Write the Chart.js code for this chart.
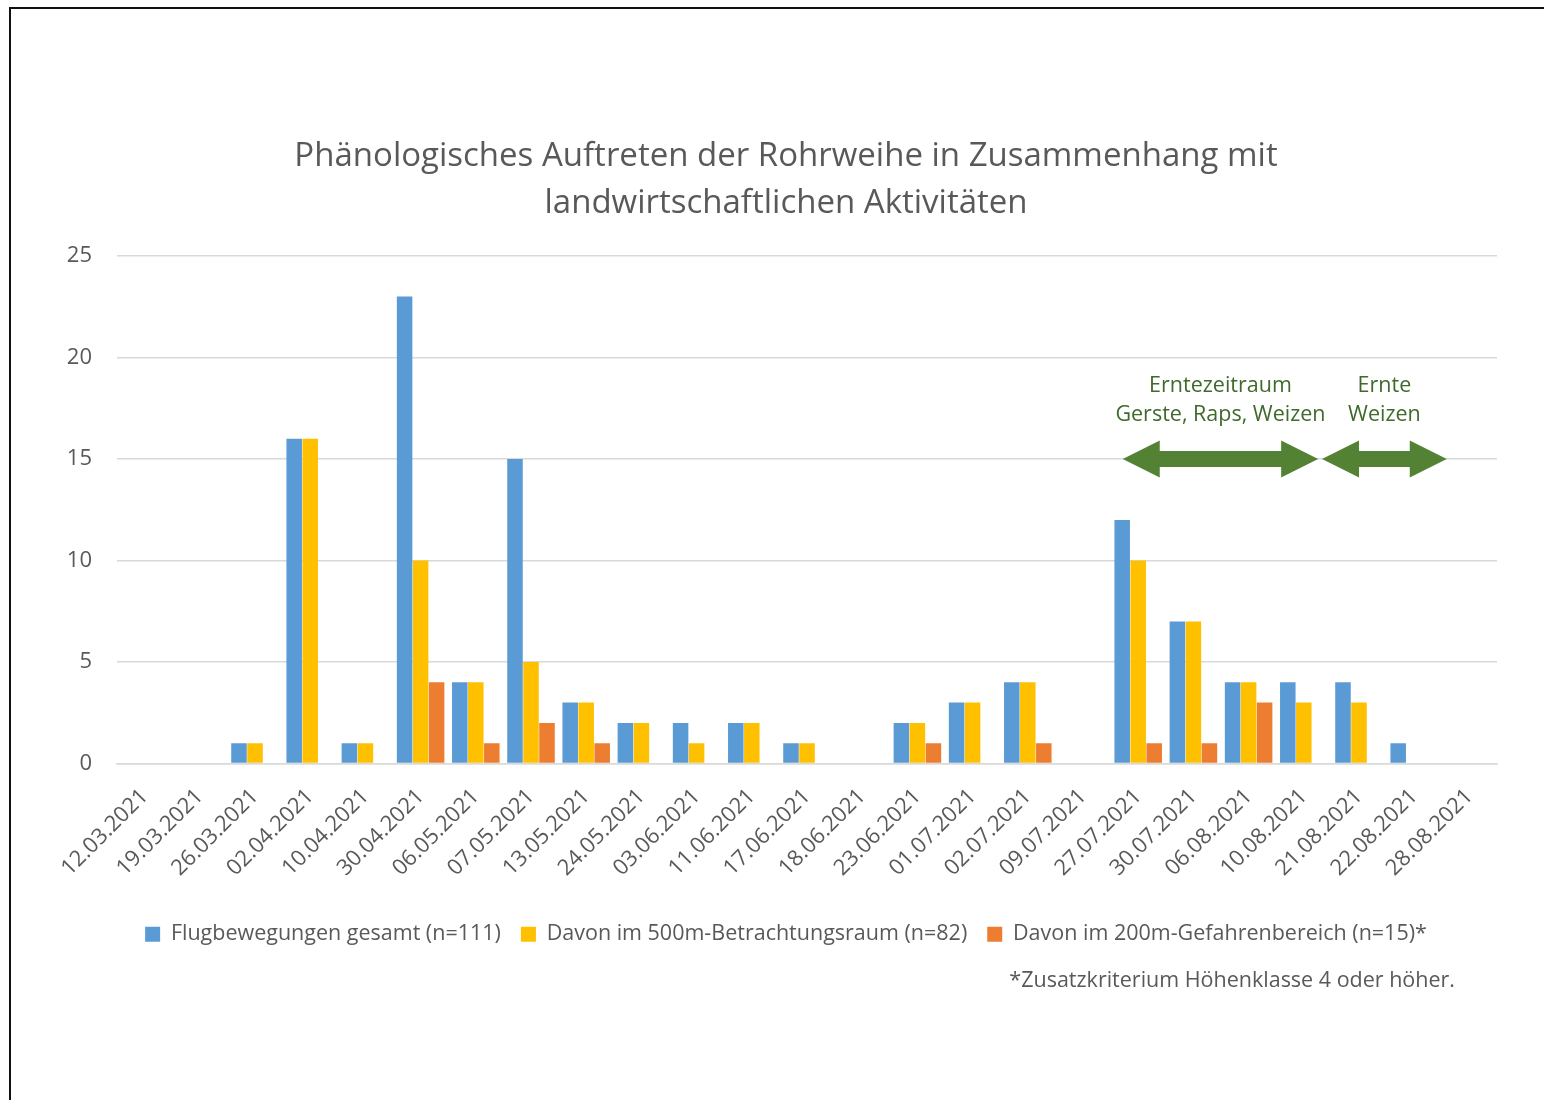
<!DOCTYPE html>
<html><head><meta charset="utf-8">
<script src="https://cdn.jsdelivr.net/npm/chart.js@4.4.1/dist/chart.umd.min.js"></script>
<style>
html,body{margin:0;padding:0;background:#fff;overflow:hidden;}
#wrap{position:absolute;left:0;top:0;width:1544px;height:1100px;}
#frame{position:absolute;left:9px;top:7px;width:1600px;height:1200px;border-left:2px solid #111;border-top:2px solid #111;pointer-events:none;}
</style></head><body>
<div id="wrap"><canvas id="c" width="1544" height="1100"></canvas></div>
<div id="frame"></div>
<script>
const categories = ["12.03.2021","19.03.2021","26.03.2021","02.04.2021","10.04.2021","30.04.2021","06.05.2021","07.05.2021","13.05.2021","24.05.2021","03.06.2021","11.06.2021","17.06.2021","18.06.2021","23.06.2021","01.07.2021","02.07.2021","09.07.2021","27.07.2021","30.07.2021","06.08.2021","10.08.2021","21.08.2021","22.08.2021","28.08.2021"];
const flugGesamt      = [0,0,1,16,1,23,4,15,3,2,2,2,1,0,2,3,4,0,12,7,4,4,4,1,0];
const betrachtung500  = [0,0,1,16,1,10,4,5,3,2,1,2,1,0,2,3,4,0,10,7,4,3,3,0,0];
const gefahren200     = [0,0,0,0,0,4,1,2,1,0,0,0,0,0,1,0,1,0,1,1,3,0,0,0,0];
const seriesLabels = ["Flugbewegungen gesamt (n=111)","Davon im 500m-Betrachtungsraum (n=82)","Davon im 200m-Gefahrenbereich (n=15)*"];
const yTicks = [0,5,10,15,20,25];
const titleLines = ["Phänologisches Auftreten der Rohrweihe in Zusammenhang mit","landwirtschaftlichen Aktivitäten"];
const footnote = "*Zusatzkriterium Höhenklasse 4 oder höher.";
// harvest periods: label lines, span in (fractional) category index, level on y axis
const harvestLabels = [["Erntezeitraum","Gerste, Raps, Weizen"],["Ernte","Weizen"]];
const harvestSpans = [[17.72,21.26],[21.33,23.59]];
const harvestLevel = 15;
const harvestTextLevels = [18.6,17.15];

const FONT = "'Open Sans', sans-serif";
const GRAY = "#595959";

const harvestPlugin = {
  id:'harvest',
  afterDatasetsDraw(chart){
    const ctx = chart.ctx, xs = chart.scales.x, ys = chart.scales.y;
    const x0 = xs.getPixelForValue(0), step = xs.getPixelForValue(1) - x0;
    const px = v => x0 + v*step;
    const yc = ys.getPixelForValue(harvestLevel);
    const headL = 37, headH = 18.5, shaftH = 8;
    ctx.save();
    ctx.fillStyle = "#548235";
    harvestSpans.forEach(([a,b])=>{
      const l = px(a), r = px(b);
      ctx.beginPath();
      ctx.moveTo(l, yc);
      ctx.lineTo(l+headL, yc-headH);
      ctx.lineTo(l+headL, yc-shaftH);
      ctx.lineTo(r-headL, yc-shaftH);
      ctx.lineTo(r-headL, yc-headH);
      ctx.lineTo(r, yc);
      ctx.lineTo(r-headL, yc+headH);
      ctx.lineTo(r-headL, yc+shaftH);
      ctx.lineTo(l+headL, yc+shaftH);
      ctx.lineTo(l+headL, yc+headH);
      ctx.closePath();
      ctx.fill();
    });
    ctx.fillStyle = "#3f6a2c";
    ctx.font = "21.5px " + FONT;
    ctx.textAlign = "center";
    ctx.textBaseline = "middle";
    harvestSpans.forEach(([a,b],i)=>{
      const cx = px((a+b)/2);
      harvestLabels[i].forEach((t,j)=>{
        ctx.fillText(t, cx, ys.getPixelForValue(harvestTextLevels[j]));
      });
    });
    ctx.restore();
  },
  afterDraw(chart){
    const ctx = chart.ctx;
    const hb = chart.legend.legendHitBoxes[0];
    ctx.save();
    ctx.fillStyle = GRAY;
    ctx.font = "21.5px " + FONT;
    ctx.textAlign = "right";
    ctx.textBaseline = "middle";
    ctx.fillText(footnote, chart.chartArea.right - 42, hb.top + hb.height/2 + 47);
    ctx.restore();
  }
};

const barStyle = {borderWidth:0, categoryPercentage:0.87, barPercentage:0.97};
new Chart(document.getElementById('c'), {
  type:'bar',
  data:{
    labels:categories,
    datasets:[
      Object.assign({label:seriesLabels[0], data:flugGesamt, backgroundColor:"#5B9BD5"}, barStyle),
      Object.assign({label:seriesLabels[1], data:betrachtung500, backgroundColor:"#FFC000"}, barStyle),
      Object.assign({label:seriesLabels[2], data:gefahren200, backgroundColor:"#ED7D31"}, barStyle)
    ]
  },
  options:{
    responsive:false,
    animation:false,
    devicePixelRatio:1,
    layout:{padding:{left:55,right:27,top:0,bottom:145}},
    plugins:{
      title:{display:true,text:titleLines,color:GRAY,font:{family:FONT,size:33,weight:'normal',lineHeight:47/33},padding:{top:133,bottom:29}},
      legend:{position:'bottom',labels:{color:GRAY,font:{family:FONT,size:21.5},boxWidth:15,boxHeight:15,padding:20}},
      tooltip:{enabled:false}
    },
    scales:{
      x:{
        afterFit(s){ s.height += 2; },
        grid:{display:false,drawTicks:false},
        border:{display:true,color:"#d9d9d9",width:1.5},
        ticks:{color:GRAY,font:{family:FONT,size:22},minRotation:45,maxRotation:45,padding:20,autoSkip:false}
      },
      y:{
        min:0,max:25,
        afterBuildTicks(s){ s.ticks = yTicks.map(v=>({value:v})); },
        afterFit(s){ s.width = 62; },
        grid:{color:"#d9d9d9",lineWidth:1.5,drawTicks:false},
        border:{display:false},
        ticks:{color:GRAY,font:{family:FONT,size:22},padding:25}
      },
      yRight:{
        position:'right',
        display:true,
        afterFit(s){ s.width = 20; },
        grid:{display:false,drawTicks:false},
        border:{display:false},
        ticks:{display:false}
      }
    }
  },
  plugins:[harvestPlugin]
});
</script>
</body></html>
